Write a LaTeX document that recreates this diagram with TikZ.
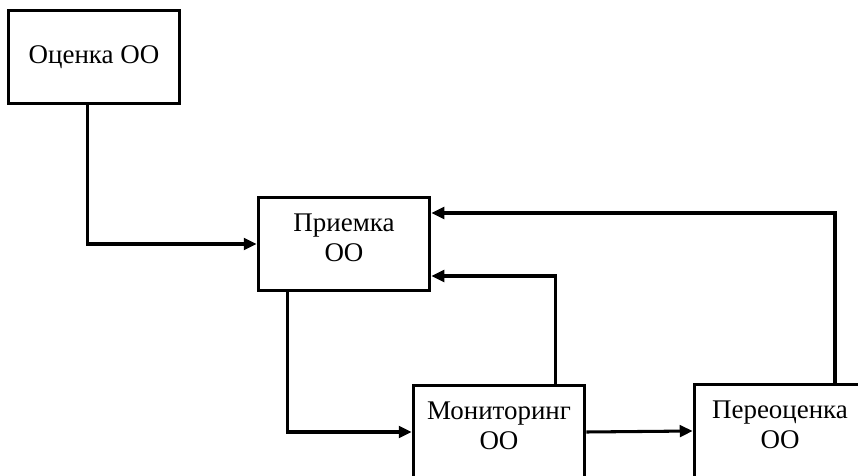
\documentclass[tikz,border=0pt]{standalone}
\usepackage{fontspec}
\setmainfont{Liberation Serif}
\usepackage{tikz}
\usetikzlibrary{shapes,arrows,arrows.meta,positioning}
\tikzstyle{block} = [rectangle,draw,line width=2.6pt,minimum width=5.15cm,
  minimum height=2.8cm,align=center,font=\fontsize{23}{26}\selectfont]
\tikzstyle{twoline} = [block,text depth=11pt]
\tikzstyle{link} = [line width=2.6pt,-{Triangle[length=11pt,width=10pt]}]

\begin{document}
\begin{tikzpicture}[x=0.03cm,y=-0.03cm]
\clip (0,0) rectangle (858,476);

\node [block] (ocenka) at (94,57) {Оценка ОО};
\node [twoline] (priemka) at (344,244) {Приемка\\ОО};
\node [twoline] (monitoring) at (499,432) {Мониторинг\\ОО};
\node [twoline] (pereocenka) at (780,431) {Переоценка\\ОО};

\draw [link] ([xshift=-0.2cm]ocenka.south) |- (priemka.west);
\draw [link] ([xshift=0.93cm]priemka.south west) |- (monitoring.west);
\draw [link] (monitoring.east) -- (pereocenka.west);
\draw [link] ([xshift=-0.93cm]monitoring.north east) |- ([yshift=-0.96cm]priemka.east);
\draw [link] ([xshift=1.65cm]pereocenka.north) |- ([yshift=0.93cm]priemka.east);
\end{tikzpicture}
\end{document}
